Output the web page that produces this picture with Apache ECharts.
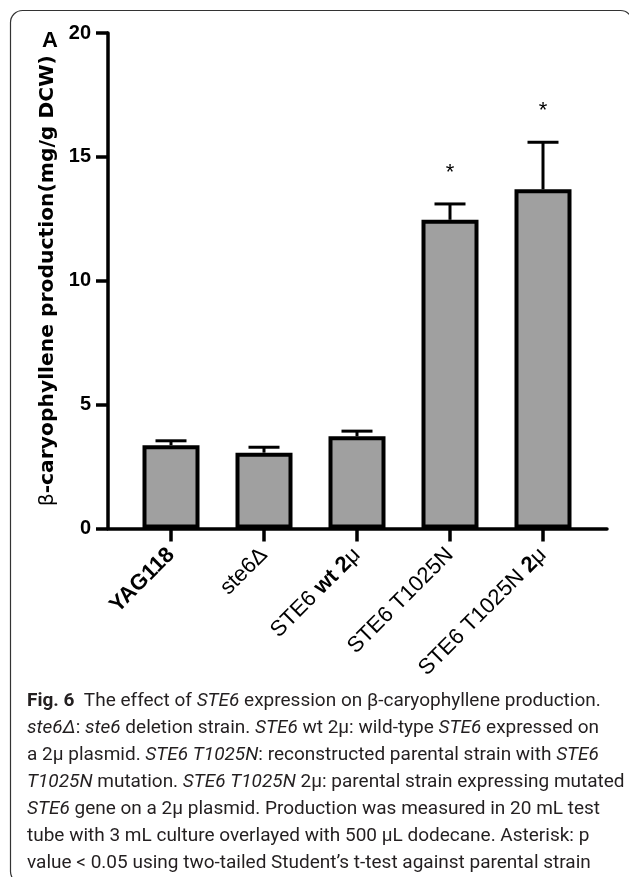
<!DOCTYPE html>
<html><head><meta charset="utf-8">
<script src="https://cdn.jsdelivr.net/npm/echarts@6/dist/echarts.min.js"></script>
<style>html,body{margin:0;padding:0;background:#fff}#c{width:629px;height:877px}</style>
</head><body><div id="c"></div>
<script>
// ---- data ----
const categories = ['YAG118', 'ste6Δ', 'STE6 wt 2μ', 'STE6 T1025N', 'STE6 T1025N 2μ'];
const means = [3.36, 3.06, 3.72, 12.46, 13.69];
const errors = [0.18, 0.22, 0.21, 0.64, 1.90];
const significance = ['', '', '', '*', '*'];
const yMin = 0, yMax = 20, yInterval = 5;

// rich-text versions of category labels (bold parts as in the figure)
const labelRich = {
  'YAG118': '{b|YAG118}',
  'ste6Δ': '{r|ste6Δ}',
  'STE6 wt 2μ': '{r|STE6 }{b|wt 2}{r|μ}',
  'STE6 T1025N': '{r|STE6 T1025N}',
  'STE6 T1025N 2μ': '{r|STE6 T1025N }{b|2}{r|μ}'
};

const captionLines = [
  '{fb|Fig. 6}{r|  The effect of }{i|STE6}{r| expression on β-caryophyllene production.}',
  '{i|ste6Δ}{r|: }{i|ste6}{r| deletion strain. }{i|STE6}{r| wt 2μ: wild-type }{i|STE6}{r| expressed on}',
  '{r|a 2μ plasmid. }{i|STE6 T1025N}{r|: reconstructed parental strain with }{i|STE6}',
  '{i|T1025N}{r| mutation. }{i|STE6 T1025N}{r| 2μ: parental strain expressing mutated}',
  '{i|STE6}{r| gene on a 2μ plasmid. Production was measured in 20 mL test}',
  '{r|tube with 3 mL culture overlayed with 500 μL dodecane. Asterisk: p}',
  '{r|value < 0.05 using two-tailed Student’s t-test against parental strain}'
];

const chart = echarts.init(document.getElementById('c'));
const capFont = 'Roboto';
const capSize = 19;
const capLH = 26.9;

const option = {
  backgroundColor: '#fff',
  animation: false,
  graphic: [{
    type: 'rect', silent: true,
    shape: { x: 10.5, y: 10.5, width: 622, height: 873, r: 12 },
    style: { fill: 'none', stroke: '#333', lineWidth: 1.2 }
  }],
  title: [
    { text: 'A', left: 37, top: 25,
      textStyle: { fontFamily: 'Liberation Sans', fontWeight: 'bold', fontSize: 22, color: '#000' } },
    { text: captionLines.join('\n'), left: 27, top: 688, padding: 0,
      textStyle: {
        fontWeight: 'normal',
        rich: {
          r: { fontFamily: capFont, fontSize: capSize, fontWeight: 'normal', color: '#231f20', lineHeight: capLH },
          i: { fontFamily: capFont, fontSize: capSize, fontWeight: 'normal', fontStyle: 'italic', color: '#231f20', lineHeight: capLH },
          fb: { fontFamily: capFont, fontSize: capSize, fontWeight: 'bold', color: '#231f20', lineHeight: capLH }
        }
      } }
  ],
  grid: [
    { left: 124.5, right: 39.5, top: 33, bottom: 348.5 },
    { left: 108, right: 22, top: 33, bottom: 348.5 }
  ],
  xAxis: [
    { type: 'category', gridIndex: 0, data: categories,
      axisLine: { show: false },
      axisTick: { show: true, alignWithLabel: true, length: 13, lineStyle: { color: '#000', width: 3.5 } },
      splitLine: { show: false },
      axisLabel: {
        interval: 0, rotate: 45, margin: 23, hideOverlap: false, color: '#000',
        formatter: v => labelRich[v],
        rich: {
          r: { fontFamily: 'Liberation Sans', fontSize: 22, color: '#000' },
          b: { fontFamily: 'Liberation Sans', fontSize: 22, fontWeight: 'bold', color: '#000' }
        }
      } },
    { type: 'value', gridIndex: 1, min: 0, max: 1,
      axisLine: { show: true, lineStyle: { color: '#000', width: 3.5 } },
      axisTick: { show: false }, axisLabel: { show: false }, splitLine: { show: false } }
  ],
  yAxis: [
    { type: 'value', gridIndex: 0, min: yMin, max: yMax, interval: yInterval, show: false,
      splitLine: { show: false } },
    { type: 'value', gridIndex: 1, min: yMin, max: yMax, interval: yInterval,
      axisLine: { show: true, lineStyle: { color: '#000', width: 3.5 } },
      axisTick: { show: true, inside: false, length: 12, lineStyle: { color: '#000', width: 3.5 } },
      splitLine: { show: false },
      axisLabel: { margin: 17, color: '#000', fontFamily: 'Liberation Sans', fontWeight: 'bold', fontSize: 20 },
      name: '{g|β}{b|-caryophyllene production(mg/g DCW)}',
      nameLocation: 'middle', nameGap: 48,
      nameTextStyle: {
        rich: {
          g: { fontFamily: 'DejaVu Sans', fontSize: 20.3, color: '#000' },
          b: { fontFamily: 'DejaVu Sans', fontSize: 20.3, fontWeight: 'bold', color: '#000' }
        }
      } }
  ],
  series: [
    { type: 'custom', xAxisIndex: 0, yAxisIndex: 0, z: 1,
      data: categories.map((c, i) => [i, means[i], errors[i]]),
      renderItem: function (params, api) {
        const i = api.value(0);
        const m = api.value(1);
        const e = api.value(2);
        const base = api.coord([i, m]);
        const top = api.coord([i, m + e]);
        const half = 15.5;
        const style = { stroke: '#000', lineWidth: 3 };
        const children = [
          { type: 'line', shape: { x1: base[0], y1: base[1], x2: top[0], y2: top[1] }, style: style },
          { type: 'line', shape: { x1: top[0] - half, y1: top[1], x2: top[0] + half, y2: top[1] }, style: style }
        ];
        const s = significance[params.dataIndex];
        if (s) {
          children.push({ type: 'text', style: {
            text: s, x: top[0], y: top[1] - 31, align: 'center', verticalAlign: 'middle',
            font: '22px "Liberation Sans"', fill: '#000' } });
        }
        return { type: 'group', children: children };
      } },
    { type: 'bar', xAxisIndex: 0, yAxisIndex: 0, z: 2, data: means, barWidth: 57,
      itemStyle: { color: '#a0a0a0', borderColor: '#000', borderWidth: 4 } }
  ]
};
chart.setOption(option);
</script>
</body></html>
